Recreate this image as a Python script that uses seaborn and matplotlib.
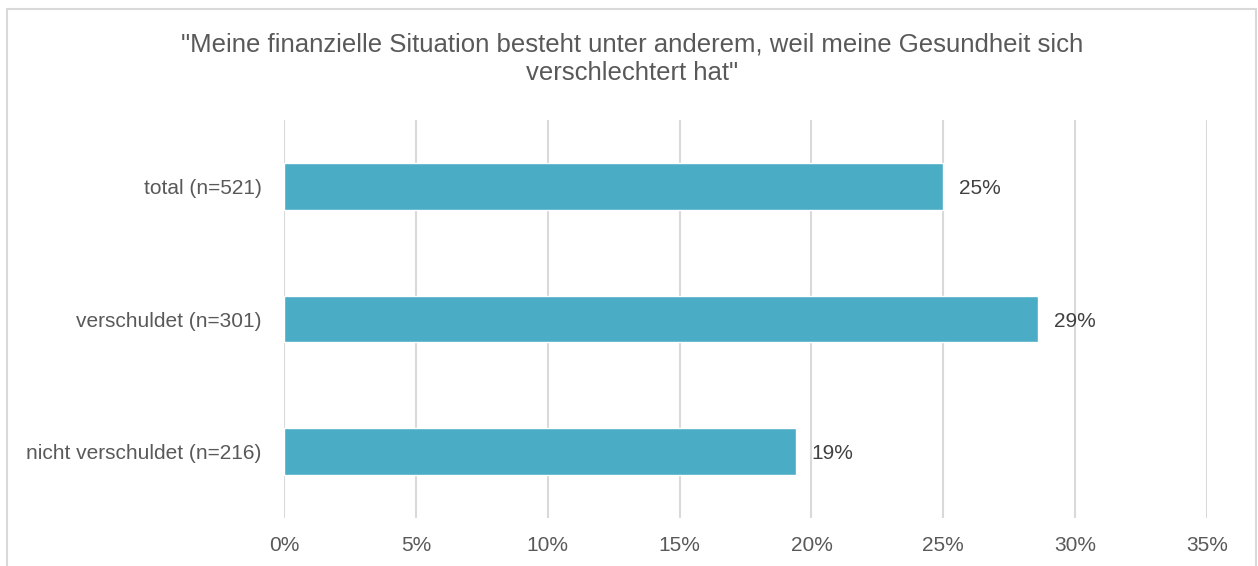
import matplotlib
matplotlib.use("Agg")
import matplotlib.pyplot as plt
import seaborn as sns
import pandas as pd
from matplotlib.patches import Rectangle

categories = ["total (n=521)", "verschuldet (n=301)", "nicht verschuldet (n=216)"]
values = [0.25, 0.286, 0.194]
labels = ["25%", "29%", "19%"]
ticks = [0, 0.05, 0.10, 0.15, 0.20, 0.25, 0.30, 0.35]
tick_labels = ["0%", "5%", "10%", "15%", "20%", "25%", "30%", "35%"]
title = '"Meine finanzielle Situation besteht unter anderem, weil meine Gesundheit sich\nverschlechtert hat"'

sns.set_theme(style="white")
plt.rcParams['font.family'] = ['Liberation Sans', 'DejaVu Sans']

df = pd.DataFrame({"cat": categories, "val": values})

fig = plt.figure(figsize=(12.58, 5.66), dpi=100)
ax = fig.add_axes([0.2258, 0.0848, 0.7337, 0.703])

sns.barplot(data=df, x="val", y="cat", color="#4BACC6", width=0.35, ax=ax, saturation=1)

ax.set_xlim(0, 0.35)
ax.set_ylim(2.5, -0.5)
ax.set_xticks(ticks)
ax.set_xticklabels(tick_labels)
ax.grid(axis="x", color="#D9D9D9", linewidth=1.5)
ax.set_axisbelow(True)
for s in ax.spines.values():
    s.set_visible(False)
ax.tick_params(axis="both", length=0, labelsize=15, colors="#595959")
ax.tick_params(axis="x", pad=13)
ax.tick_params(axis="y", pad=16)
ax.set_xlabel("")
ax.set_ylabel("")

for i, (v, lab) in enumerate(zip(values, labels)):
    ax.text(v + 0.0061, i, lab, va="center_baseline", ha="left", fontsize=15, color="#404040")

fig.text(0.5025, 0.896, title, ha="center", va="center", fontsize=18.5, color="#595959", linespacing=1.25)

fig.patches.append(Rectangle((7/1258, -0.1), (1256-7)/1258, 1 - 9/566 + 0.1, transform=fig.transFigure,
                             fill=False, edgecolor="#D9D9D9", linewidth=1.5))

fig.savefig("out.png", dpi=100)
